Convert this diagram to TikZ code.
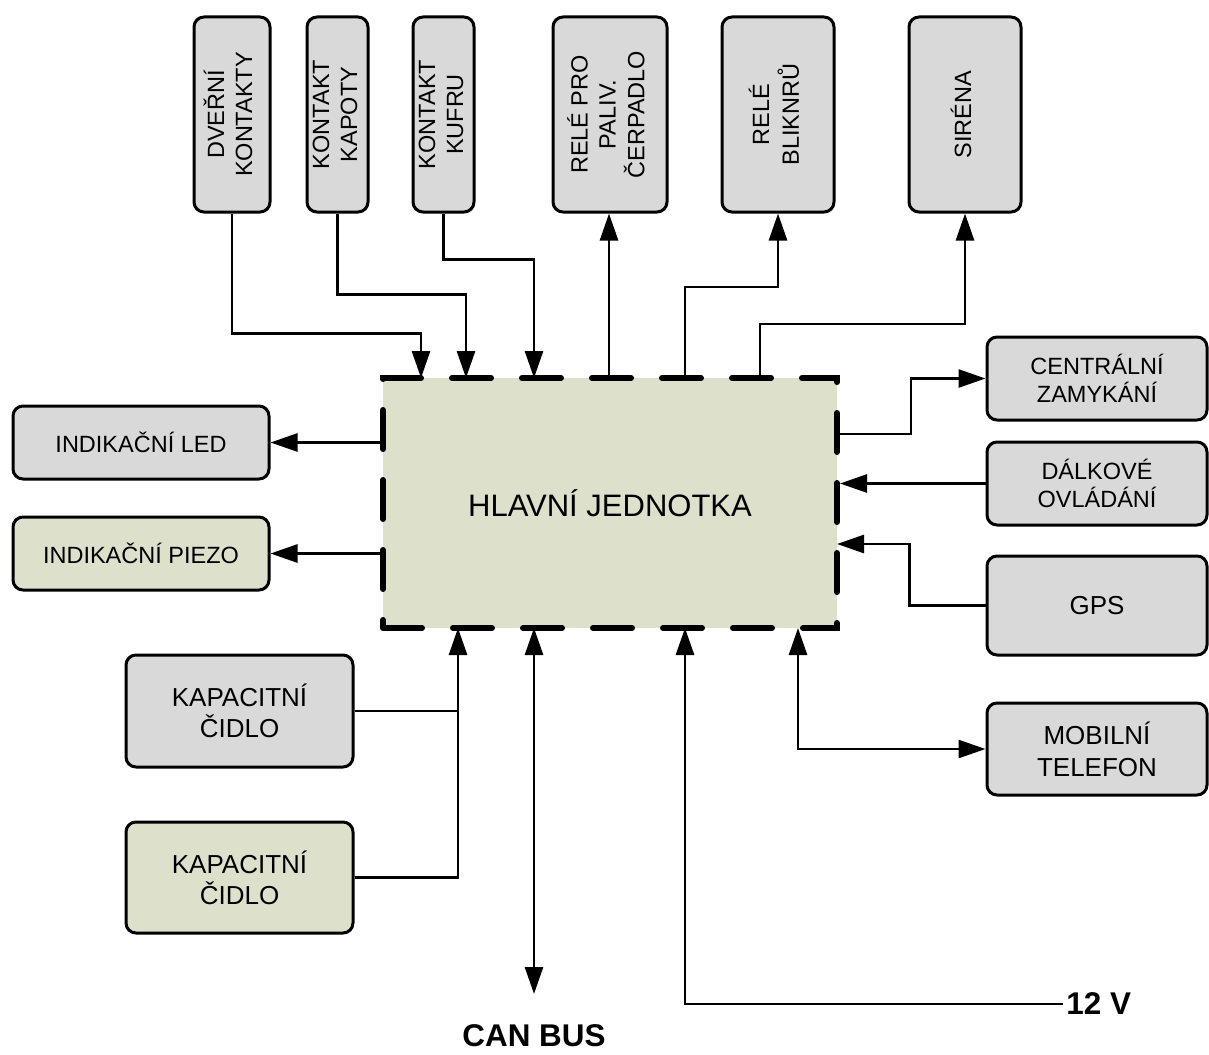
\documentclass[tikz,border=0pt]{standalone}
\usepackage{fontspec}
\setmainfont{Liberation Sans}
\usetikzlibrary{arrows.meta}
\definecolor{sediva}{HTML}{D9D9D9}
\definecolor{zelena}{HTML}{DDE1CC}
\newcommand{\svisle}[1]{\rotatebox{90}{\begin{tabular}{@{}c@{}}#1\end{tabular}}}
\tikzset{
  blok/.style={draw,line width=1.5pt,rounded corners=5pt,fill=sediva,inner sep=0pt,align=center,
    font=\fontsize{11.75}{14}\selectfont},
  zelblok/.style={blok,fill=zelena},
  hlavni/.style={draw,line width=3pt,dash pattern=on 19.5pt off 15.5pt,line cap=round,fill=zelena,
    inner sep=0pt,font=\fontsize{15.5}{18}\selectfont},
  popis/.style={inner sep=1.5pt,font=\fontsize{15.7}{18}\selectfont\bfseries},
  spoj/.style={line width=1.35pt},
  sipka/.style={spoj,-{Triangle[length=13.5pt,width=9pt]}},
  obousmer/.style={spoj,{Triangle[length=13.5pt,width=9pt]}-{Triangle[length=13.5pt,width=9pt]}}
}

\begin{document}
\begin{tikzpicture}[x=0.5pt,y=-0.5pt]
    \useasboundingbox (0,0) rectangle (1209,1054);
    % hlavni jednotka
    \node[hlavni,minimum width=227pt,minimum height=125pt] (hj) at (610,503) {HLAVNÍ JEDNOTKA};
    % bloky nahore
    \node[blok,minimum width=38pt,minimum height=97.5pt] (dvere) at (232,114.5) {\svisle{DVEŘNÍ\\KONTAKTY}};
    \node[blok,minimum width=30.5pt,minimum height=97.5pt] (kapota) at (337.5,114.5) {\svisle{KONTAKT\\KAPOTY}};
    \node[blok,minimum width=30.5pt,minimum height=97.5pt] (kufr) at (443.5,114.5) {\svisle{KONTAKT\\KUFRU}};
    \node[blok,minimum width=57pt,minimum height=97.5pt] (palivo) at (610,114.5) {\svisle{RELÉ PRO\\PALIV.\\ČERPADLO}};
    \node[blok,minimum width=56pt,minimum height=97.5pt] (blinkr) at (778,114.5) {\svisle{RELÉ\\BLIKNRŮ}};
    \node[blok,minimum width=56pt,minimum height=97.5pt] (sirena) at (965,114.5) {\svisle{SIRÉNA}};
    % bloky vlevo
    \node[blok,minimum width=128pt,minimum height=36.5pt] (led) at (141,442.5) {INDIKAČNÍ LED};
    \node[zelblok,minimum width=128pt,minimum height=36.5pt] (piezo) at (141,553.5) {INDIKAČNÍ PIEZO};
    \node[blok,minimum width=113.5pt,minimum height=56pt,font=\fontsize{13}{15.5}\selectfont] (kap1) at (239.5,711) {KAPACITNÍ\\ČIDLO};
    \node[zelblok,minimum width=113.5pt,minimum height=55.5pt,font=\fontsize{13}{15.5}\selectfont] (kap2) at (239.5,877.5) {KAPACITNÍ\\ČIDLO};
    % bloky vpravo
    \node[blok,minimum width=110pt,minimum height=41.5pt] (zamky) at (1097,378.5) {CENTRÁLNÍ\\ZAMYKÁNÍ};
    \node[blok,minimum width=110pt,minimum height=41.5pt] (dalkove) at (1097,483.5) {DÁLKOVÉ\\OVLÁDÁNÍ};
    \node[blok,minimum width=110pt,minimum height=49.5pt,font=\fontsize{13}{15.5}\selectfont] (gps) at (1097,605.5) {GPS};
    \node[blok,minimum width=110pt,minimum height=46pt,font=\fontsize{13}{16}\selectfont] (mobil) at (1097,749) {MOBILNÍ\\TELEFON};
    % popisy
    \node[popis,inner sep=0pt] (can) at (534,1036) {CAN BUS};
    \node[popis,anchor=west] (napeti) at (1063,1004) {12 V};
    % body na okraji hlavni jednotky
    \coordinate (a1) at (421,378);
    \coordinate (a2) at (466,378);
    \coordinate (a3) at (534,378);
    \coordinate (a4) at (609,378);
    \coordinate (a5) at (685,378);
    \coordinate (a6) at (760,378);
    \coordinate (b1) at (837,434);
    \coordinate (b3) at (837,544);
    \coordinate (d1) at (458,628);
    \coordinate (d2) at (534,628);
    \coordinate (d3) at (685,628);
    \coordinate (d4) at (798,628);
    \coordinate (canend) at (534,994);
    % spoje
    \draw[sipka] (dvere.south) -- ++(0,120) -| (a1);
    \draw[sipka] (kapota.south) -- ++(0,81) -| (a2);
    \draw[sipka] (kufr.south) -- ++(0,46) -| (a3);
    \draw[sipka] (a4) -- (a4 |- palivo.south);
    \draw[sipka] (a5) -- ++(0,-91) -| (blinkr.south);
    \draw[sipka] (a6) -- ++(0,-54) -| (sirena.south);
    \draw[sipka] (b1) -- ++(74,0) |- (zamky.west);
    \draw[sipka] (dalkove.west) -- (dalkove.west -| hj.east);
    \draw[sipka] (gps.west) -- ++(-76,0) |- (b3);
    \draw[sipka] (hj.west |- led.east) -- (led.east);
    \draw[sipka] (hj.west |- piezo.east) -- (piezo.east);
    \draw[spoj] (kap1.east) -- (kap1.east -| d1);
    \draw[sipka] (kap2.east) -| (d1);
    \draw[obousmer] (d2) -- (canend);
    \draw[sipka] (napeti.west) -| (d3);
    \draw[obousmer] (d4) |- (mobil.west);
\end{tikzpicture}
\end{document}
